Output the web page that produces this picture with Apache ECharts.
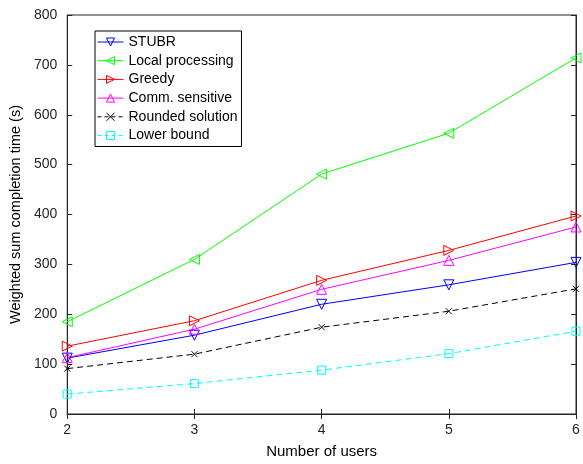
<!DOCTYPE html>
<html><head><meta charset="utf-8">
<script src="https://cdn.jsdelivr.net/npm/echarts@6/dist/echarts.min.js"></script>
<style>html,body{margin:0;padding:0;background:#fff}#c{width:583px;height:464px}</style>
</head><body><div id="c"></div>
<script>
const users = [2, 3, 4, 5, 6];
const stubr = [112, 158, 220, 259, 304];
const localProc = [185, 310, 481, 563, 714];
const greedy = [136, 187, 268, 328, 397];
const comm = [113, 170, 250, 308, 375];
const rounded = [91, 120, 174, 206, 251];
const lower = [40, 61, 88, 121, 166];
const yTicks = [0, 100, 200, 300, 400, 500, 600, 700, 800];
const seriesNames = ['STUBR', 'Local processing', 'Greedy', 'Comm. sensitive', 'Rounded solution', 'Lower bound'];
const colors = ['#0000FF', '#00FF00', '#FF0000', '#FF00FF', '#000000', '#00FFFF'];

const font = 'Liberation Sans, Arial, Helvetica, sans-serif';
const axisCol = '#262626';
function pairs(v){ return users.map((u,i)=>[u, v[i]]); }
function mk(i, data, symbol, rot, size, dashed){
  const color = colors[i];
  return {
    name: seriesNames[i], type:'line', data: pairs(data), symbol, symbolRotate: rot, symbolSize: size,
    color,
    lineStyle:{color, width:1, type: dashed ? [6,4] : 'solid'},
    itemStyle:{color:'rgba(255,255,255,0)', borderColor: color, borderWidth:1},
    emphasis:{disabled:true}, animation:false, z: 3
  };
}
const chart = echarts.init(document.getElementById('c'), null, {renderer:'canvas'});
chart.setOption({
  animation:false,
  backgroundColor:'#fff',
  grid:{left:66, right:7, top:15, bottom:47, show:true, borderColor:axisCol, borderWidth:1},
  legend:{
    left:95, top:31, orient:'vertical', itemGap:4.7, itemWidth:26, itemHeight:10,
    backgroundColor:'#fff', borderColor:'#000', borderWidth:1, padding:[4,4,4,2],
    itemStyle:{borderWidth:1},
    lineStyle:{width:1},
    textStyle:{fontFamily:font, fontSize:14, lineHeight:14, color:'#000'},
    data: seriesNames.map((n,i)=> i>=4 ? {
      name:n,
      lineStyle:{type:[4,3], width:1, color:colors[i]},
      itemStyle:{color:'rgba(255,255,255,0)', borderColor:colors[i], borderWidth:1}
    } : {name:n})
  },
  xAxis:[{
    type:'value', min:2, max:6, interval:1,
    name:'Number of users', nameLocation:'middle', nameGap:30,
    nameTextStyle:{fontFamily:font, fontSize:15, color:'#000'},
    axisLine:{lineStyle:{color:axisCol}}, axisTick:{inside:true, length:5, lineStyle:{color:axisCol}},
    axisLabel:{fontFamily:font, fontSize:14, color:axisCol, margin:9},
    splitLine:{show:false}
  },{
    type:'value', position:'top', min:2, max:6, interval:1,
    axisLine:{lineStyle:{color:axisCol}}, axisTick:{inside:true, length:5, lineStyle:{color:axisCol}},
    axisLabel:{show:false}, splitLine:{show:false}
  }],
  yAxis:[{
    type:'value', min:yTicks[0], max:yTicks[yTicks.length-1], interval:100,
    name:'Weighted sum completion time (s)', nameLocation:'middle', nameGap:36,
    nameTextStyle:{fontFamily:font, fontSize:14.5, color:'#000'},
    axisLine:{show:true, lineStyle:{color:axisCol}}, axisTick:{show:true, inside:true, length:5, lineStyle:{color:axisCol}},
    axisLabel:{fontFamily:font, fontSize:14, color:axisCol, margin:10},
    splitLine:{show:false}
  },{
    type:'value', position:'right', min:0, max:800, interval:100,
    axisLine:{show:true, lineStyle:{color:axisCol}}, axisTick:{show:true, inside:true, length:5, lineStyle:{color:axisCol}},
    axisLabel:{show:false}, splitLine:{show:false}
  }],
  series:[
    mk(0, stubr, 'triangle', 180, 10, false),
    mk(1, localProc, 'triangle', 90, 10, false),
    mk(2, greedy, 'triangle', -90, 10, false),
    mk(3, comm, 'triangle', 0, 10, false),
    mk(4, rounded, 'path://M0,0L10,10M10,0L0,10', 0, 6, true),
    mk(5, lower, 'rect', 0, 8, true)
  ]
});
</script></body></html>
